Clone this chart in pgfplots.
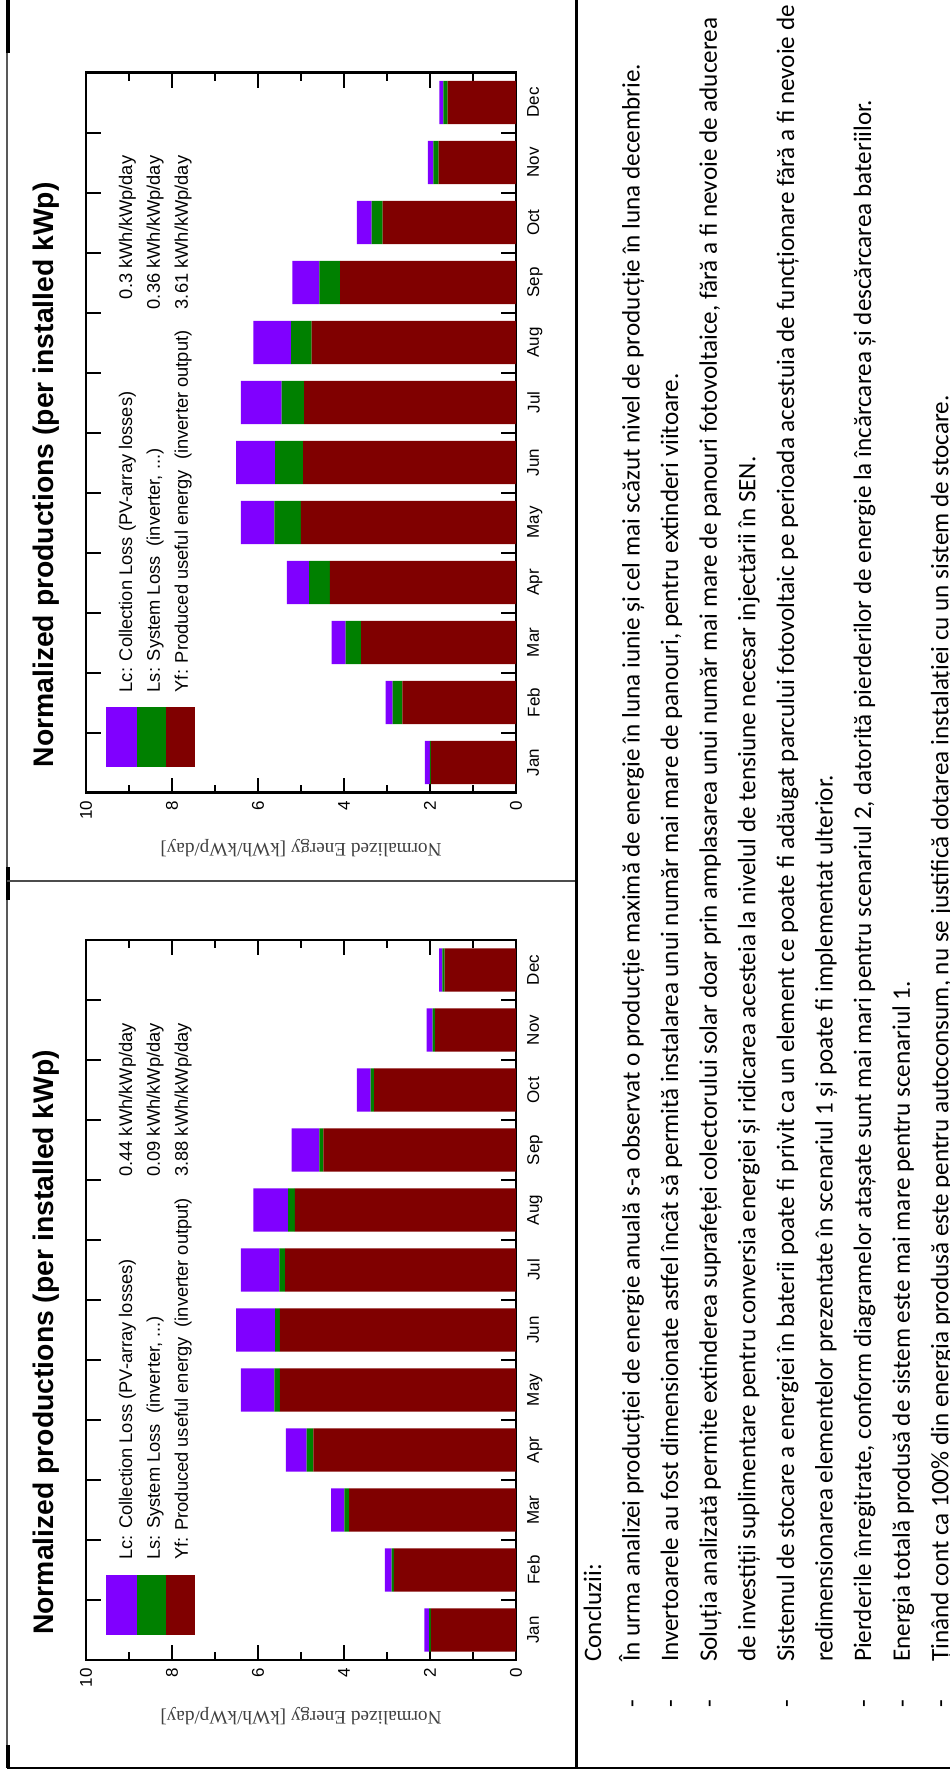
\documentclass[border=0pt]{standalone}
\usepackage{fontspec}
\setmainfont{Liberation Sans}
\newfontfamily\carlito{Carlito}
\newfontfamily\tms{Liberation Serif}
\usepackage{pgfplots}
\usepackage{pgfplotstable}
\pgfplotsset{compat=1.18}
\definecolor{lcpurple}{RGB}{128,0,255}
\definecolor{lsgreen}{RGB}{0,128,0}
\definecolor{yfred}{RGB}{128,0,0}
\newcommand\lgfont{\fontsize{18.3}{18.3}\selectfont}
\newcommand\txfont{\carlito\fontsize{25.15}{25.15}\selectfont}

% scenario 2 (top chart)
\pgfplotstableread{
m yf ls lc
1 1.98 0.02 0.12
2 2.64 0.23 0.16
3 3.60 0.36 0.33
4 4.33 0.48 0.52
5 5.00 0.62 0.78
6 4.95 0.65 0.91
7 4.93 0.52 0.95
8 4.75 0.48 0.88
9 4.09 0.48 0.63
10 3.10 0.26 0.34
11 1.80 0.12 0.13
12 1.59 0.10 0.09
}\scenTwo
% scenario 1 (bottom chart)
\pgfplotstableread{
m yf ls lc
1 1.98 0.04 0.11
2 2.84 0.05 0.16
3 3.88 0.11 0.31
4 4.71 0.16 0.48
5 5.49 0.13 0.78
6 5.49 0.11 0.91
7 5.37 0.13 0.90
8 5.14 0.16 0.81
9 4.48 0.09 0.65
10 3.30 0.08 0.32
11 1.88 0.06 0.14
12 1.66 0.05 0.08
}\scenOne

\pgfplotsset{
  prodaxis/.style={
    xbar stacked, scale only axis, width=430pt, height=720pt,
    x dir=reverse, xmin=0, xmax=10, ymin=0.5, ymax=12.5,
    xtick={0,2,...,10}, minor x tick num=1,
    ytick={1.5,2.5,...,11.5}, yticklabels={},
    extra y ticks={1,2,...,12},
    extra y tick labels={Jan,Feb,Mar,Apr,May,Jun,Jul,Aug,Sep,Oct,Nov,Dec},
    extra y tick style={major tick length=0pt},
    tick pos=both, xticklabel pos=left, yticklabel pos=right,
    tick align=inside,
    major tick length=15pt, minor tick length=8pt,
    axis line style={line width=2.7pt},
    every tick/.style={black, line width=2pt},
    xticklabel style={rotate=90, anchor=east, inner sep=0pt, font=\fontsize{17}{17}\selectfont},
    yticklabel style={rotate=90, anchor=north, inner sep=0pt, font=\fontsize{17}{17}\selectfont},
    xticklabel shift=8pt, yticklabel shift=11pt,
    /pgf/number format/assume math mode=true,
    bar width=0.72, clip=false,
  }
}

\begin{document}
\begin{tikzpicture}
\useasboundingbox (0pt,0pt) rectangle (950pt,-1775pt);

% ---------- top chart (scenario 2)
\begin{axis}[prodaxis, at={(301pt,-432.5pt)}, anchor=center]
  \addplot[fill=yfred, draw=none] table[x=yf, y=m]{\scenTwo};
  \addplot[fill=lsgreen, draw=none] table[x=ls, y=m]{\scenTwo};
  \addplot[fill=lcpurple, draw=none] table[x=lc, y=m]{\scenTwo};
  \fill[lcpurple] (axis cs:9.53,0.917) rectangle (axis cs:8.81,1.917);
  \fill[lsgreen] (axis cs:8.81,0.917) rectangle (axis cs:8.14,1.917);
  \fill[yfred] (axis cs:8.14,0.917) rectangle (axis cs:7.47,1.917);
  \node[rotate=90, anchor=base west, inner sep=0pt, font=\lgfont] at (axis cs:8.930,2.167) {Lc: Collection Loss (PV-array losses)};
  \node[rotate=90, anchor=base west, inner sep=0pt, font=\lgfont] at (axis cs:8.279,2.167) {Ls: System Loss\ \ (inverter, ...)};
  \node[rotate=90, anchor=base west, inner sep=0pt, font=\lgfont] at (axis cs:7.628,2.167) {Yf: Produced useful energy\ \ (inverter output)};
  \node[rotate=90, anchor=base east, inner sep=0pt, font=\lgfont] at (axis cs:8.930,11.117) {0.3 kWh/kWp/day};
  \node[rotate=90, anchor=base east, inner sep=0pt, font=\lgfont] at (axis cs:8.279,11.117) {0.36 kWh/kWp/day};
  \node[rotate=90, anchor=base east, inner sep=0pt, font=\lgfont] at (axis cs:7.628,11.117) {3.61 kWh/kWp/day};
  \node[rotate=180, inner sep=0pt, text=black!75, font=\tms\fontsize{19.2}{19.2}\selectfont] at (axis cs:5,-0.433) {Normalized Energy [kWh/kWp/day]};
  \node[rotate=90, anchor=base west, inner sep=0pt, font=\bfseries\fontsize{28.3}{29}\selectfont] at (axis cs:10.767,0.917) {Normalized productions (per installed kWp)};
\end{axis}

% ---------- bottom chart (scenario 1)
\begin{axis}[prodaxis, at={(301pt,-1300pt)}, anchor=center]
  \addplot[fill=yfred, draw=none] table[x=yf, y=m]{\scenOne};
  \addplot[fill=lsgreen, draw=none] table[x=ls, y=m]{\scenOne};
  \addplot[fill=lcpurple, draw=none] table[x=lc, y=m]{\scenOne};
  \fill[lcpurple] (axis cs:9.53,0.917) rectangle (axis cs:8.81,1.917);
  \fill[lsgreen] (axis cs:8.81,0.917) rectangle (axis cs:8.14,1.917);
  \fill[yfred] (axis cs:8.14,0.917) rectangle (axis cs:7.47,1.917);
  \node[rotate=90, anchor=base west, inner sep=0pt, font=\lgfont] at (axis cs:8.930,2.167) {Lc: Collection Loss (PV-array losses)};
  \node[rotate=90, anchor=base west, inner sep=0pt, font=\lgfont] at (axis cs:8.279,2.167) {Ls: System Loss\ \ (inverter, ...)};
  \node[rotate=90, anchor=base west, inner sep=0pt, font=\lgfont] at (axis cs:7.628,2.167) {Yf: Produced useful energy\ \ (inverter output)};
  \node[rotate=90, anchor=base east, inner sep=0pt, font=\lgfont] at (axis cs:8.930,11.117) {0.44 kWh/kWp/day};
  \node[rotate=90, anchor=base east, inner sep=0pt, font=\lgfont] at (axis cs:8.279,11.117) {0.09 kWh/kWp/day};
  \node[rotate=90, anchor=base east, inner sep=0pt, font=\lgfont] at (axis cs:7.628,11.117) {3.88 kWh/kWp/day};
  \node[rotate=180, inner sep=0pt, text=black!75, font=\tms\fontsize{19.2}{19.2}\selectfont] at (axis cs:5,-0.433) {Normalized Energy [kWh/kWp/day]};
  \node[rotate=90, anchor=base west, inner sep=0pt, font=\bfseries\fontsize{28.3}{29}\selectfont] at (axis cs:10.767,0.917) {Normalized productions (per installed kWp)};
\end{axis}

% ---------- page frame lines
\draw[line width=2pt, black!65] (7pt,0pt) -- (7pt,-1768pt);
\draw[line width=3.5pt] (8pt,0pt) -- (8pt,-53pt);
\draw[line width=3.5pt] (8pt,-867pt) -- (8pt,-900pt);
\draw[line width=3.5pt] (8pt,-1745pt) -- (8pt,-1768pt);
\draw[line width=2.5pt, black!70] (7pt,-881pt) -- (576pt,-881pt);
\draw[line width=3pt] (576pt,0pt) -- (576pt,-1768pt);
\draw[line width=2.5pt] (7pt,-1768pt) -- (950pt,-1768pt);

% ---------- conclusions text (rotated)
\begin{scope}[every node/.style={rotate=90, anchor=base west, inner sep=0pt, font=\txfont}]
\node at (601pt,-1662pt) {Concluzii:};
\node at (639.6pt,-1662pt) {În urma analizei producției de energie anuală s-a observat o producție maximă de energie în luna iunie și cel mai scăzut nivel de producție în luna decembrie.};
\node at (678.2pt,-1662pt) {Invertoarele au fost dimensionate astfel încât să permită instalarea unui număr mai mare de panouri, pentru extinderi viitoare.};
\node at (716.8pt,-1662pt) {Soluția analizată permite extinderea suprafeței colectorului solar doar prin amplasarea unui număr mai mare de panouri fotovoltaice, fără a fi nevoie de aducerea};
\node at (755.4pt,-1662pt) {de investiții suplimentare pentru conversia energiei și ridicarea acesteia la nivelul de tensiune necesar injectării în SEN.};
\node at (794pt,-1662pt) {Sistemul de stocare a energiei în baterii poate fi privit ca un element ce poate fi adăugat parcului fotovoltaic pe perioada acestuia de funcționare fără a fi nevoie de};
\node at (832.6pt,-1662pt) {redimensionarea elementelor prezentate în scenariul 1 și poate fi implementat ulterior.};
\node at (871.2pt,-1662pt) {Pierderile înregitrate, conform diagramelor atașate sunt mai mari pentru scenariul 2, datorită pierderilor de energie la încărcarea și descărcarea bateriilor.};
\node at (909.8pt,-1662pt) {Energia totală produsă de sistem este mai mare pentru scenariul 1.};
\node at (948.4pt,-1662pt) {Ținând cont ca 100\% din energia produsă este pentru autoconsum, nu se justifică dotarea instalației cu un sistem de stocare.};
\end{scope}
\begin{scope}[every node/.style={rotate=90, anchor=base, inner sep=0pt, font=\txfont}]
\foreach \bx in {639.6,678.2,716.8,794,871.2,909.8,948.4}
  \node at (\bx pt,-1703.5pt) {-};
\end{scope}
\end{tikzpicture}
\end{document}
